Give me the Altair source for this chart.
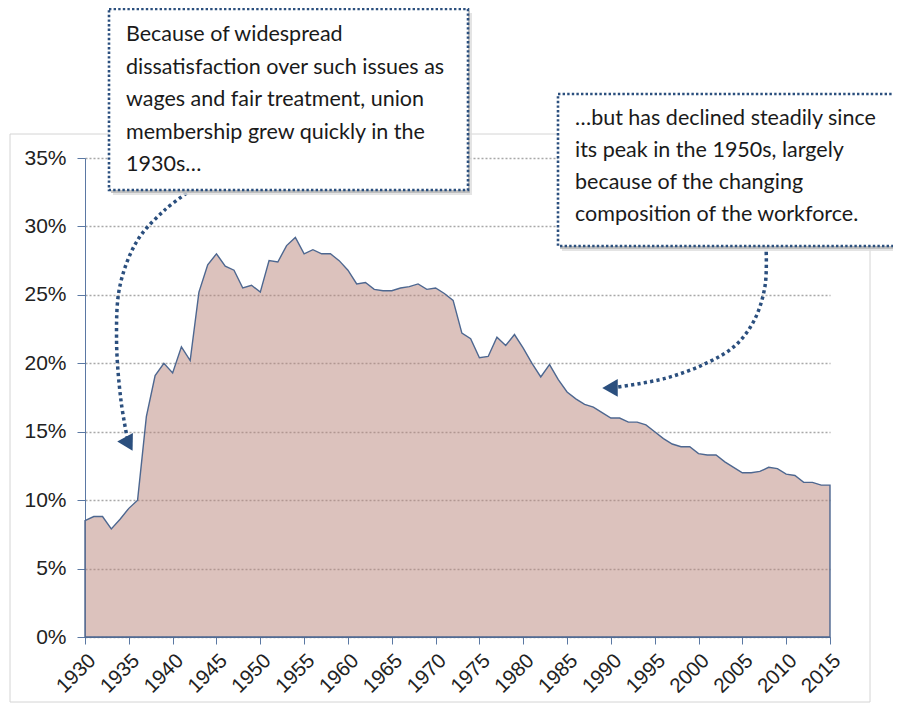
import altair as alt
import pandas as pd

# ---- data ----
years = list(range(1930, 2016))
union_pct = [8.5, 8.8, 8.8, 7.9, 8.6, 9.4, 10.0, 16.1, 19.1, 20.0,
             19.3, 21.2, 20.2, 25.2, 27.2, 28.0, 27.1, 26.8, 25.5, 25.7,
             25.2, 27.5, 27.4, 28.6, 29.2, 28.0, 28.3, 28.0, 28.0, 27.5,
             26.8, 25.8, 25.9, 25.4, 25.3, 25.3, 25.5, 25.6, 25.8, 25.4,
             25.5, 25.1, 24.6, 22.2, 21.8, 20.4, 20.5, 21.9, 21.3, 22.1,
             21.1, 20.0, 19.0, 19.9, 18.8, 17.9, 17.4, 17.0, 16.8, 16.4,
             16.0, 16.0, 15.7, 15.7, 15.5, 15.0, 14.5, 14.1, 13.9, 13.9,
             13.4, 13.3, 13.3, 12.8, 12.4, 12.0, 12.0, 12.1, 12.4, 12.3,
             11.9, 11.8, 11.3, 11.3, 11.1, 11.1]
x_ticks = list(range(1930, 2016, 5))
y_ticks = list(range(0, 36, 5))

note1_lines = ["Because of widespread",
               "dissatisfaction over such issues as",
               "wages and fair treatment, union",
               "membership grew quickly in the",
               "1930s…"]
note2_lines = ["…but has declined steadily since",
               "its peak in the 1950s, largely",
               "because of the changing",
               "composition of the workforce."]

# arrow paths anchored in data units (year, percent)
arrow1_year = [1942.2, 1939.1, 1936.0, 1934.0, 1933.6, 1934.1, 1934.8]
arrow1_pct = [32.7, 31.2, 29.0, 25.7, 21.7, 17.3, 14.6]
arrow1_head = (1935.0, 14.1)
arrow2_year = [2007.7, 2007.6, 2006.4, 2004.2, 2000.7, 1996.2, 1990.8]
arrow2_pct = [28.6, 25.7, 23.2, 21.3, 19.95, 18.9, 18.26]
arrow2_head = (1989.9, 18.2)

df = pd.DataFrame({"year": years, "pct": union_pct})
a1 = pd.DataFrame({"year": arrow1_year, "pct": arrow1_pct, "i": range(len(arrow1_year))})
a2 = pd.DataFrame({"year": arrow2_year, "pct": arrow2_pct, "i": range(len(arrow2_year))})
h1 = pd.DataFrame({"year": [arrow1_head[0]], "pct": [arrow1_head[1]]})
h2 = pd.DataFrame({"year": [arrow2_head[0]], "pct": [arrow2_head[1]]})
one = pd.DataFrame({"a": [0]})

AXIS_COLOR = "#5b78a3"
NAVY = "#2b4f7e"

xs = alt.Scale(domain=[1930, 2015], nice=False, zero=False)
ys = alt.Scale(domain=[0, 35], nice=False)

x_enc = alt.X("year:Q", scale=xs, axis=alt.Axis(
    values=x_ticks, format="d", title=None, grid=False,
    domainColor=AXIS_COLOR, tickColor=AXIS_COLOR, tickSize=7,
    labelAngle=-45, labelAlign="right", labelBaseline="top",
    labelOverlap=False, labelBound=False, labelFlush=False,
    labelFont="Liberation Sans", labelFontSize=20.5, labelColor="#222222",
    labelPadding=6))
y_enc = alt.Y("pct:Q", scale=ys, axis=alt.Axis(
    values=y_ticks, labelExpr="datum.value + '%'", title=None,
    grid=True, gridColor="#a8a8a8", gridDash=[2, 2], gridWidth=1.5,
    labelOverlap=False,
    domainColor=AXIS_COLOR, tickColor=AXIS_COLOR, tickSize=8,
    labelFont="Liberation Sans", labelFontSize=21, labelColor="#222222",
    labelPadding=11))

frame = alt.Chart(one).mark_rect(fill="white", fillOpacity=0, stroke="#d4d4d4",
                                 strokeWidth=1).encode(
    x=alt.value(-75), x2=alt.value(785), y=alt.value(-24), y2=alt.value(544))

area = alt.Chart(df).mark_area(fill="#b9857b", fillOpacity=0.5, stroke="#4d6790",
                               strokeWidth=1.4).encode(x=x_enc, y=y_enc)

arrow_style = dict(color=NAVY, strokeWidth=3.5, strokeDash=[3.2, 3.2],
                   interpolate="catmull-rom", strokeCap="butt")
arr1 = alt.Chart(a1).mark_line(**arrow_style).encode(
    x=alt.X("year:Q", scale=xs), y=alt.Y("pct:Q", scale=ys), order="i:Q")
arr2 = alt.Chart(a2).mark_line(**arrow_style).encode(
    x=alt.X("year:Q", scale=xs), y=alt.Y("pct:Q", scale=ys), order="i:Q")
head1 = alt.Chart(h1).mark_point(shape="triangle-up", filled=True, fill=NAVY,
                                 size=320, angle=151, opacity=1).encode(
    x=alt.X("year:Q", scale=xs), y=alt.Y("pct:Q", scale=ys))
head2 = alt.Chart(h2).mark_point(shape="triangle-up", filled=True, fill=NAVY,
                                 size=320, angle=270, opacity=1).encode(
    x=alt.X("year:Q", scale=xs), y=alt.Y("pct:Q", scale=ys))


def box(x1, y1, x2, y2):
    sh2 = alt.Chart(one).mark_rect(fill="#dddddd", opacity=0.8).encode(
        x=alt.value(x1 + 4), x2=alt.value(x2 + 4), y=alt.value(y1 + 4), y2=alt.value(y2 + 5))
    sh1 = alt.Chart(one).mark_rect(fill="#b5b5b5", opacity=0.8).encode(
        x=alt.value(x1 + 2), x2=alt.value(x2 + 2), y=alt.value(y1 + 2), y2=alt.value(y2 + 3))
    b = alt.Chart(one).mark_rect(fill="white", stroke=NAVY, strokeWidth=2.6,
                                 strokeDash=[2.4, 2.2]).encode(
        x=alt.value(x1), x2=alt.value(x2), y=alt.value(y1), y2=alt.value(y2))
    return [sh2, sh1, b]


text_style = dict(align="left", baseline="alphabetic", font="Lato", fontSize=21.5,
                  color="#1a1a1a")
txt1 = alt.Chart(one).mark_text(text=note1_lines, lineHeight=32.5, **text_style).encode(
    x=alt.value(41), y=alt.value(-117))
txt2 = alt.Chart(one).mark_text(text=note2_lines, lineHeight=32, **text_style).encode(
    x=alt.value(490), y=alt.value(-33))

layers = [frame, area, arr1, arr2, head1, head2]
layers += box(24, -149, 383, 32)
layers += [txt1]
layers += box(473, -64, 850, 88)
layers += [txt2]

chart = alt.layer(*layers).properties(
    width=745, height=479,
    padding={"left": 77, "top": 150, "right": 63, "bottom": 66},
    autosize=alt.AutoSizeParams(type="none"),
).configure_view(stroke=None)

chart.save("out.html", embed_options={"renderer": "svg", "actions": False})
